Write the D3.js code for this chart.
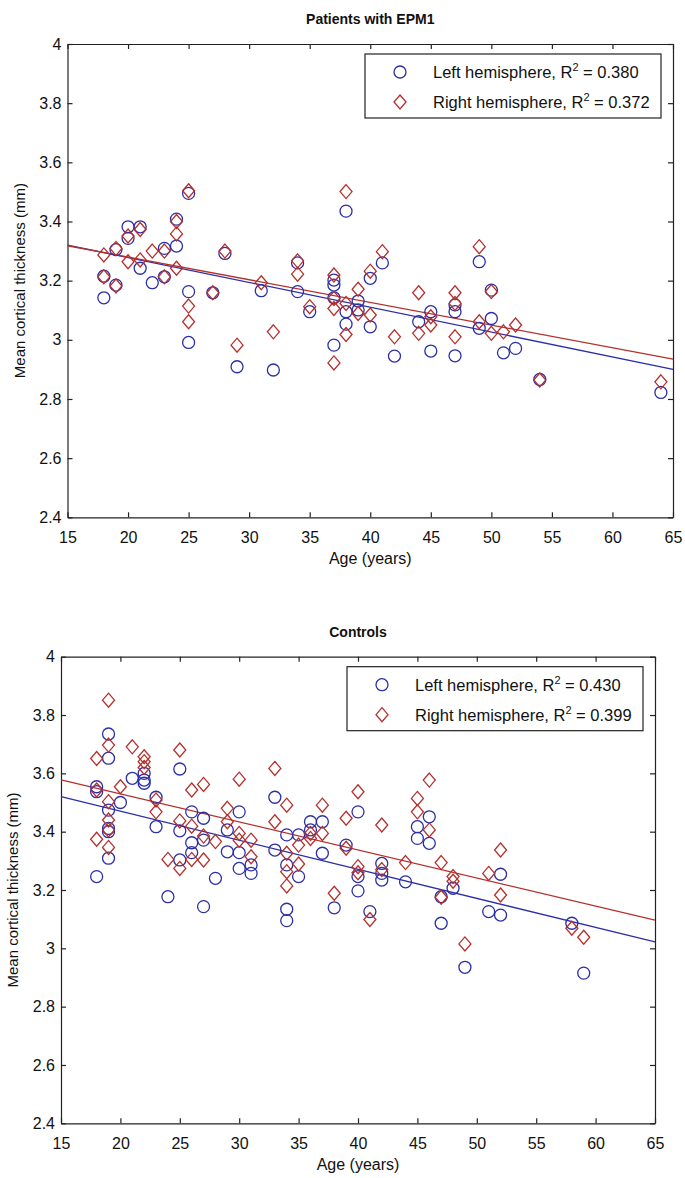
<!DOCTYPE html>
<html>
<head>
<meta charset="utf-8">
<script src="https://cdn.jsdelivr.net/npm/d3@7"></script>
<style>
  body { margin: 0; background: #fff; }
  text { font-family: "Liberation Sans", Arial, sans-serif; fill: #111; }
</style>
</head>
<body>
<div id="chart"></div>
<script>
// tick values shared by both panels
var xTicks = [15, 20, 25, 30, 35, 40, 45, 50, 55, 60, 65];
var yTicks = [2.4, 2.6, 2.8, 3, 3.2, 3.4, 3.6, 3.8, 4];

// Patients with EPM1 : [age, mean thickness]
var epmLeft = [
  [18, 3.142], [18, 3.215], [19, 3.305], [19, 3.185], [20, 3.382], [20, 3.343], [21, 3.382], [21, 3.242],
  [22, 3.193], [23, 3.309], [23, 3.213], [24, 3.408], [24, 3.317], [25, 3.495], [25, 3.163], [25, 2.991],
  [27, 3.159], [28, 3.292], [29, 2.909], [31, 3.166], [32, 2.898], [34, 3.26], [34, 3.163], [35, 3.095],
  [37, 3.202], [37, 3.185], [37, 3.142], [37, 2.982], [38, 3.435], [38, 3.095], [38, 3.053], [39, 3.131],
  [39, 3.101], [40, 3.208], [40, 3.044], [41, 3.26], [42, 2.945], [44, 3.061], [45, 3.095], [45, 2.962],
  [47, 3.118], [47, 3.095], [47, 2.946], [49, 3.264], [49, 3.039], [50, 3.168], [50, 3.072], [51, 2.956],
  [52, 2.971], [54, 2.866], [64, 2.822]
];
var epmRight = [
  [18, 3.287], [18, 3.213], [19, 3.309], [19, 3.182], [20, 3.264], [20, 3.351], [21, 3.373], [21, 3.27],
  [22, 3.30], [23, 3.30], [23, 3.213], [24, 3.40], [24, 3.358], [24, 3.242], [25, 3.504], [25, 3.114],
  [25, 3.061], [27, 3.159], [28, 3.30], [29, 2.982], [31, 3.193], [32, 3.027], [34, 3.267], [34, 3.222],
  [35, 3.112], [37, 3.219], [37, 3.14], [37, 3.106], [37, 2.922], [38, 3.501], [38, 3.123], [38, 3.018],
  [39, 3.171], [39, 3.089], [40, 3.232], [40, 3.084], [41, 3.298], [42, 3.01], [44, 3.159], [44, 3.022],
  [45, 3.078], [45, 3.05], [47, 3.159], [47, 3.123], [47, 3.01], [49, 3.315], [49, 3.061], [50, 3.163],
  [50, 3.022], [51, 3.027], [52, 3.05], [54, 2.864], [64, 2.858]
];
// fitted lines, value at age 15 and age 65
var epmFitLeft = [3.32, 2.90];
var epmFitRight = [3.318, 2.935];
var epmR2 = ["0.380", "0.372"];

// Controls
var ctlLeft = [
  [18, 3.554], [18, 3.537], [18, 3.246], [19, 3.735], [19, 3.652], [19, 3.474], [19, 3.411], [19, 3.40],
  [19, 3.309], [20, 3.50], [21, 3.583], [22, 3.60], [22, 3.577], [22, 3.566], [23, 3.518], [23, 3.417],
  [24, 3.177], [25, 3.615], [25, 3.403], [25, 3.303], [26, 3.468], [26, 3.362], [26, 3.328], [27, 3.446],
  [27, 3.371], [27, 3.143], [28, 3.24], [29, 3.406], [29, 3.331], [30, 3.468], [30, 3.328], [30, 3.274],
  [31, 3.286], [31, 3.257], [33, 3.518], [33, 3.337], [34, 3.389], [34, 3.286], [34, 3.134], [34, 3.095],
  [35, 3.389], [35, 3.246], [36, 3.434], [36, 3.406], [37, 3.434], [37, 3.326], [38, 3.139], [39, 3.354],
  [40, 3.468], [40, 3.246], [40, 3.197], [41, 3.126], [42, 3.291], [42, 3.257], [42, 3.234], [44, 3.228],
  [45, 3.417], [45, 3.377], [46, 3.451], [46, 3.36], [47, 3.177], [47, 3.086], [48, 3.206], [49, 2.935],
  [51, 3.126], [52, 3.254], [52, 3.114], [58, 3.086], [59, 2.915]
];
var ctlRight = [
  [18, 3.651], [18, 3.543], [18, 3.374], [19, 3.851], [19, 3.697], [19, 3.503], [19, 3.44], [19, 3.406],
  [19, 3.346], [20, 3.554], [21, 3.691], [22, 3.657], [22, 3.64], [22, 3.62], [23, 3.509], [23, 3.468],
  [24, 3.305], [25, 3.68], [25, 3.437], [25, 3.274], [26, 3.543], [26, 3.419], [26, 3.305], [27, 3.562],
  [27, 3.385], [27, 3.303], [28, 3.366], [29, 3.48], [29, 3.434], [30, 3.58], [30, 3.394], [30, 3.371],
  [31, 3.371], [31, 3.314], [33, 3.617], [33, 3.434], [34, 3.491], [34, 3.326], [34, 3.263], [34, 3.214],
  [35, 3.354], [35, 3.289], [36, 3.394], [36, 3.377], [37, 3.491], [37, 3.394], [38, 3.189], [39, 3.446],
  [39, 3.343], [40, 3.537], [40, 3.28], [40, 3.259], [41, 3.099], [42, 3.423], [42, 3.27], [44, 3.294],
  [45, 3.514], [45, 3.468], [46, 3.577], [46, 3.406], [47, 3.294], [47, 3.175], [48, 3.246], [48, 3.23],
  [49, 3.015], [51, 3.257], [52, 3.337], [52, 3.183], [58, 3.069], [59, 3.038]
];
var ctlFitLeft = [3.52, 3.022];
var ctlFitRight = [3.578, 3.097];
var ctlR2 = ["0.430", "0.399"];

var blue = "#2c2fa6";
var red = "#b5302c";

var svg = d3.select("#chart")
  .append("svg")
  .attr("width", 685)
  .attr("height", 1178);

// box of each panel in page pixels
var panels = [
  { title: "Patients with EPM1", left: 67.5, right: 673, top: 44, bottom: 517.3,
    dataL: epmLeft, dataR: epmRight, fitL: epmFitLeft, fitR: epmFitRight, r2: epmR2 },
  { title: "Controls", left: 61, right: 655, top: 656.7, bottom: 1123.3,
    dataL: ctlLeft, dataR: ctlRight, fitL: ctlFitLeft, fitR: ctlFitRight, r2: ctlR2 }
];

function diamond(cx, cy) {
  return "M" + cx + "," + (cy - 7) + "L" + (cx + 6) + "," + cy + "L" + cx + "," + (cy + 7) + "L" + (cx - 6) + "," + cy + "Z";
}

panels.forEach(function (p) {
  var x = d3.scaleLinear().domain([15, 65]).range([p.left, p.right]);
  var y = d3.scaleLinear().domain([2.4, 4]).range([p.bottom, p.top]);
  var g = svg.append("g");

  // axes with inward ticks, box on all four sides
  g.append("g")
    .attr("transform", `translate(0, ${p.bottom})`)
    .call(d3.axisBottom(x).tickValues(xTicks).tickSizeInner(-5).tickSizeOuter(0).tickPadding(14))
    .call(a => a.selectAll("text").style("font-size", "16px"));
  g.append("g")
    .attr("transform", `translate(${p.left}, 0)`)
    .call(d3.axisLeft(y).tickValues(yTicks).tickSizeInner(-5).tickSizeOuter(0).tickPadding(6)
      .tickFormat(d3.format("")))
    .call(a => a.selectAll("text").style("font-size", "16px"));
  g.append("g")
    .attr("transform", `translate(0, ${p.top})`)
    .call(d3.axisTop(x).tickValues(xTicks).tickSizeInner(-5).tickSizeOuter(0).tickFormat(""));
  g.append("g")
    .attr("transform", `translate(${p.right}, 0)`)
    .call(d3.axisRight(y).tickValues(yTicks).tickSizeInner(-5).tickSizeOuter(0).tickFormat(""));
  g.selectAll(".domain").attr("stroke", "#222").attr("stroke-width", 1.2);
  g.selectAll(".tick line").attr("stroke", "#222").attr("stroke-width", 1.2);

  // fit lines
  g.append("line")
    .attr("x1", x(15)).attr("y1", y(p.fitL[0]))
    .attr("x2", x(65)).attr("y2", y(p.fitL[1]))
    .attr("stroke", blue).attr("stroke-width", 1.3);
  g.append("line")
    .attr("x1", x(15)).attr("y1", y(p.fitR[0]))
    .attr("x2", x(65)).attr("y2", y(p.fitR[1]))
    .attr("stroke", red).attr("stroke-width", 1.3);

  // left hemisphere circles
  g.selectAll("circle.left")
    .data(p.dataL)
    .enter()
    .append("circle")
    .attr("class", "left")
    .attr("cx", d => x(d[0]))
    .attr("cy", d => y(d[1]))
    .attr("r", 6)
    .attr("fill", "none")
    .attr("stroke", blue)
    .attr("stroke-width", 1.3);

  // right hemisphere diamonds
  g.selectAll("path.right")
    .data(p.dataR)
    .enter()
    .append("path")
    .attr("class", "right")
    .attr("d", d => diamond(x(d[0]), y(d[1])))
    .attr("fill", "none")
    .attr("stroke", red)
    .attr("stroke-width", 1.3);

  // titles and axis labels
  g.append("text")
    .attr("x", (p.left + p.right) / 2)
    .attr("y", p.top - 20)
    .attr("text-anchor", "middle")
    .style("font-size", "14px")
    .style("font-weight", "bold")
    .text(p.title);
  g.append("text")
    .attr("x", (p.left + p.right) / 2)
    .attr("y", p.bottom + 47)
    .attr("text-anchor", "middle")
    .style("font-size", "16px")
    .text("Age (years)");
  g.append("text")
    .attr("transform", `translate(${p.left - 43}, ${(p.top + p.bottom) / 2}) rotate(-90)`)
    .attr("text-anchor", "middle")
    .style("font-size", "15px")
    .text("Mean cortical thickness (mm)");

  // legend
  var lw = 296, lh = 64;
  var lx = p.right - 12 - lw, ly = p.top + 10;
  var leg = g.append("g").attr("transform", `translate(${lx}, ${ly})`);
  leg.append("rect")
    .attr("width", lw).attr("height", lh)
    .attr("fill", "#fff").attr("stroke", "#222").attr("stroke-width", 1.2);
  leg.append("circle")
    .attr("cx", 35).attr("cy", 18).attr("r", 6)
    .attr("fill", "none").attr("stroke", blue).attr("stroke-width", 1.3);
  leg.append("path")
    .attr("d", diamond(35, 48))
    .attr("fill", "none").attr("stroke", red).attr("stroke-width", 1.3);
  var names = ["Left hemisphere, R", "Right hemisphere, R"];
  names.forEach(function (n, i) {
    var t = leg.append("text")
      .attr("x", 68)
      .attr("y", 24 + i * 30)
      .style("font-size", "16.5px");
    t.append("tspan").text(n);
    t.append("tspan").attr("dy", -7).style("font-size", "11px").text("2");
    t.append("tspan").attr("dy", 7).text(" = " + p.r2[i]);
  });
});
</script>
</body>
</html>
